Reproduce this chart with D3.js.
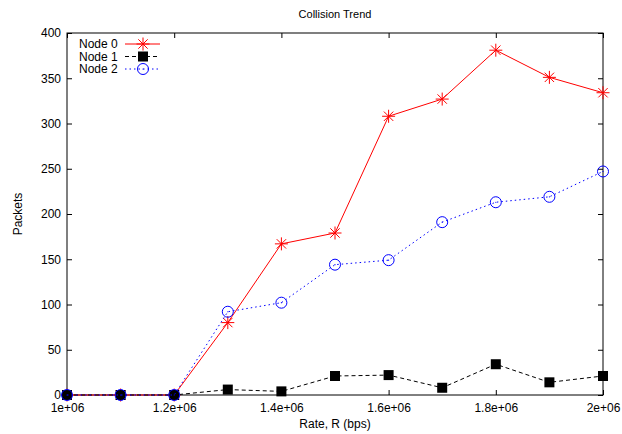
<!DOCTYPE html>
<html>
<head>
<meta charset="utf-8">
<script src="https://cdn.jsdelivr.net/npm/d3@7"></script>
<style>
  body { margin: 0; background: #fff; }
  svg { display: block; font-family: "Liberation Sans", Arial, sans-serif; }
</style>
</head>
<body>
<svg id="chart"></svg>
<script>
//data
const rates = [1.0e6, 1.1e6, 1.2e6, 1.3e6, 1.4e6, 1.5e6, 1.6e6, 1.7e6, 1.8e6, 1.9e6, 2.0e6];
const node0 = [0, 0, 0, 80, 167, 179, 308, 327, 381, 351, 334];
const node1 = [0, 0, 0, 6, 4, 21, 22, 8, 34, 14, 21];
const node2 = [0, 0, 0, 92, 102, 144, 149, 191, 213, 219, 247];
const seriesNames = ["Node 0", "Node 1", "Node 2"];
const xTicks = [1.0e6, 1.2e6, 1.4e6, 1.6e6, 1.8e6, 2.0e6];
const yTicks = [0, 50, 100, 150, 200, 250, 300, 350, 400];

const width = 622, height = 434;
const margin = { top: 33, right: 19, bottom: 39, left: 67 };

const svg = d3.select("#chart").attr("width", width).attr("height", height);

const x = d3.scaleLinear().domain([1e6, 2e6]).range([margin.left, width - margin.right]);
const y = d3.scaleLinear().domain([0, 400]).range([height - margin.bottom, margin.top]);

const fmtX = d => (d / 1e6) + "e+06";

//axes with inward ticks on all four sides
const gx = svg.append("g")
  .attr("transform", `translate(0,${y(0)})`)
  .call(d3.axisBottom(x).tickValues(xTicks).tickFormat(fmtX).tickSizeInner(-5).tickSizeOuter(0).tickPadding(8));
const gxTop = svg.append("g")
  .attr("transform", `translate(0,${y(400)})`)
  .call(d3.axisTop(x).tickValues(xTicks).tickFormat("").tickSizeInner(-5).tickSizeOuter(0));
const gy = svg.append("g")
  .attr("transform", `translate(${x(1e6)},0)`)
  .call(d3.axisLeft(y).tickValues(yTicks).tickSizeInner(-5).tickSizeOuter(0).tickPadding(6));
const gyRight = svg.append("g")
  .attr("transform", `translate(${x(2e6)},0)`)
  .call(d3.axisRight(y).tickValues(yTicks).tickFormat("").tickSizeInner(-5).tickSizeOuter(0));

[gx, gxTop, gy, gyRight].forEach(g => {
  g.select(".domain").remove();
  g.selectAll(".tick line").attr("stroke", "#000");
  g.selectAll("text").attr("fill", "#000").style("font-size", "12px").style("font-family", "'Liberation Sans', Arial, sans-serif");
});

//plot border
svg.append("rect")
  .attr("x", x(1e6)).attr("y", y(400))
  .attr("width", x(2e6) - x(1e6)).attr("height", y(0) - y(400))
  .attr("fill", "none").attr("stroke", "#000").attr("stroke-width", 1);

//titles
svg.append("text").attr("x", (x(1e6) + x(2e6)) / 2).attr("y", 18)
  .attr("text-anchor", "middle").style("font-size", "11px").text("Collision Trend");
svg.append("text").attr("x", (x(1e6) + x(2e6)) / 2).attr("y", 428)
  .attr("text-anchor", "middle").style("font-size", "12px").text("Rate, R (bps)");
svg.append("text")
  .attr("transform", `translate(22,${(y(0) + y(400)) / 2}) rotate(-90)`)
  .attr("text-anchor", "middle").style("font-size", "12px").text("Packets");

//series styles
const styles = [
  { values: node0, color: "#ff0000", dash: null, marker: "star" },
  { values: node1, color: "#000000", dash: "4,3", marker: "square" },
  { values: node2, color: "#0000ff", dash: "1.5,3", marker: "circle" }
];

function drawMarker(g, type, color, cx, cy) {
  if (type === "star") {
    const s = 6.5;
    g.append("path")
      .attr("d", `M${cx - s},${cy}H${cx + s}M${cx},${cy - s}V${cy + s}M${cx - s * 0.72},${cy - s * 0.72}L${cx + s * 0.72},${cy + s * 0.72}M${cx - s * 0.72},${cy + s * 0.72}L${cx + s * 0.72},${cy - s * 0.72}`)
      .attr("stroke", color).attr("stroke-width", 1).attr("fill", "none");
  } else if (type === "square") {
    g.append("rect").attr("x", cx - 5).attr("y", cy - 5).attr("width", 10).attr("height", 10).attr("fill", color);
  } else {
    g.append("circle").attr("cx", cx).attr("cy", cy).attr("r", 5.5)
      .attr("fill", "none").attr("stroke", color).attr("stroke-width", 1);
    g.append("circle").attr("cx", cx).attr("cy", cy).attr("r", 0.6).attr("fill", color);
  }
}

const line = d3.line().x((d, i) => x(rates[i])).y(d => y(d));

styles.forEach((s, k) => {
  const g = svg.append("g");
  g.append("path")
    .attr("d", line(s.values))
    .attr("fill", "none").attr("stroke", s.color).attr("stroke-width", 1)
    .attr("stroke-dasharray", s.dash);
  s.values.forEach((v, i) => drawMarker(g, s.marker, s.color, x(rates[i]), y(v)));

  //legend entry
  const ly = 44 + k * 12.5;
  const lg = svg.append("g");
  lg.append("text").attr("x", 79).attr("y", ly).attr("dy", "0.35em")
    .style("font-size", "12px").text(seriesNames[k]);
  lg.append("line").attr("x1", 125).attr("x2", 160).attr("y1", ly).attr("y2", ly)
    .attr("stroke", s.color).attr("stroke-width", 1).attr("stroke-dasharray", s.dash);
  drawMarker(lg, s.marker, s.color, 143, ly);
});
</script>
</body>
</html>
